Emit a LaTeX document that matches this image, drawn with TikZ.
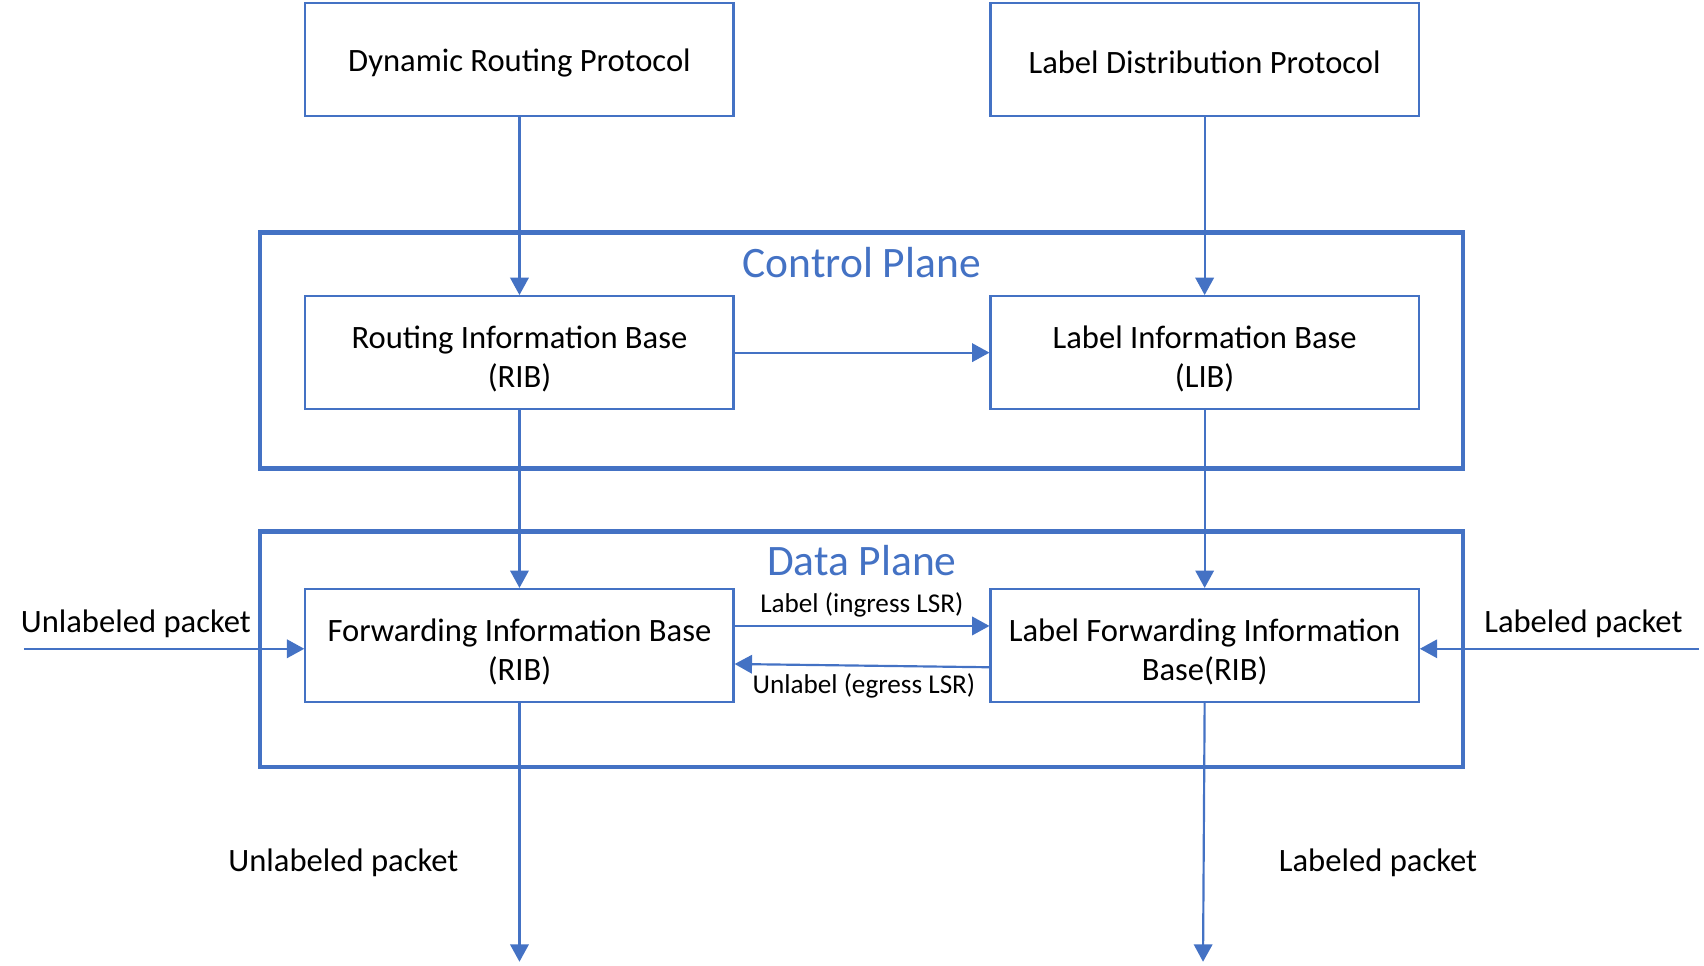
\documentclass[tikz,border=0pt]{standalone}
\usepackage{fontspec}
\setmainfont{Carlito}
\usetikzlibrary{arrows.meta}
\definecolor{mblue}{HTML}{4472C4}
\newcommand\mytstrut{\rule{0pt}{16.5pt}}
\newcommand\myostrut{\rule{0pt}{13pt}}
\begin{document}
\begin{tikzpicture}[x=0.5pt,y=-0.5pt,
  box/.style={draw=mblue,line width=1pt,minimum width=197pt,minimum height=52pt,inner sep=0pt,align=center,font=\fontsize{15}{18}\selectfont},
  frame/.style={draw=mblue,line width=2pt},
  conn/.style={draw=mblue,line width=1pt,-{Triangle[length=8pt,width=8.5pt]}},
  lbl/.style={font=\fontsize{15}{18}\selectfont,inner sep=0pt},
  slbl/.style={font=\fontsize{12.5}{15}\selectfont,inner sep=0pt},
  title/.style={font=\fontsize{20}{24}\selectfont,text=mblue,inner sep=0pt}]
\useasboundingbox (0,0) rectangle (1568,888);
\draw[frame] (239,214) rectangle (1346,431);
\draw[frame] (239,489) rectangle (1346,706);
\node[title] (cp) at (793,242) {Control Plane};
\node[title] (dp) at (793,516) {Data Plane};
\node[box] (drp) at (478,55) {\myostrut Dynamic Routing Protocol};
\node[box] (ldp) at (1108.5,55) {\myostrut Label Distribution Protocol};
\node[box] (rib) at (478,324.5) {\mytstrut Routing Information Base\\(RIB)};
\node[box] (lib) at (1108.5,324.5) {\mytstrut Label Information Base\\(LIB)};
\node[box] (fib) at (478,594) {\mytstrut Forwarding Information Base\\(RIB)};
\node[box] (lfib) at (1108.5,594) {\mytstrut Label Forwarding Information\\Base(RIB)};
\draw[conn] (drp) -- (rib);
\draw[conn] (ldp) -- (lib);
\draw[conn] (rib) -- (lib);
\draw[conn] (rib) -- (fib);
\draw[conn] (lib) -- (lfib);
\draw[conn] (fib.east |- 0,576) -- (lfib.west |- 0,576);
\draw[conn] (lfib.west |- 0,614) -- (fib.east |- 0,611);
\node[slbl] (ing) at (793,557) {Label (ingress LSR)};
\node[slbl] (egr) at (795,631) {Unlabel (egress LSR)};
\coordinate (lin) at (22,597);
\coordinate (rin) at (1563,597);
\draw[conn] (lin) -- (fib.west |- lin);
\draw[conn] (rin) -- (lfib.east |- rin);
\node[lbl] (ul1) at (125,574) {Unlabeled packet};
\node[lbl] (lp1) at (1457,574) {Labeled packet};
\coordinate (lout) at (478,885);
\coordinate (rout) at (1107,885);
\draw[conn] (fib) -- (lout);
\draw[conn] (lfib.south) -- (rout);
\node[lbl] (ul2) at (316,794) {Unlabeled packet};
\node[lbl] (lp2) at (1268,794) {Labeled packet};
\end{tikzpicture}
\end{document}
